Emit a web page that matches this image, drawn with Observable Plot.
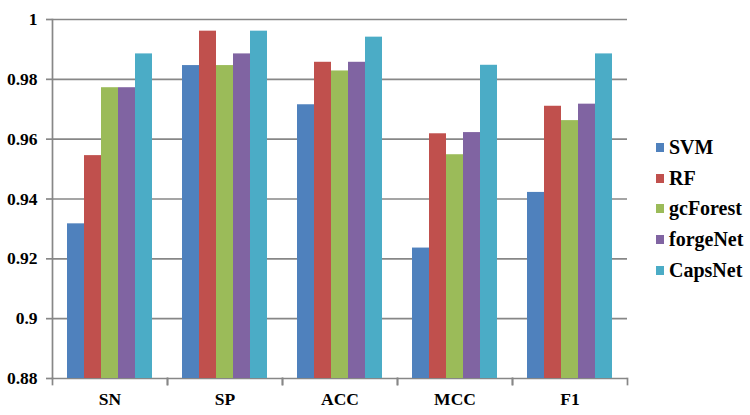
<!DOCTYPE html>
<html><head><meta charset="utf-8">
<script src="https://cdn.jsdelivr.net/npm/d3@7"></script>
<script src="https://cdn.jsdelivr.net/npm/@observablehq/plot@0.6"></script>
<style>
body{margin:0;background:#fff;}
#wrap{position:relative;width:750px;height:415px;}
#legend{position:absolute;left:656px;top:132px;font-family:"Liberation Serif",Tinos,"Times New Roman",Times,"DejaVu Serif",serif;font-weight:bold;font-size:20px;color:#000;}
.item{display:flex;align-items:center;height:30.7px;}
.sw{width:8px;height:9px;margin-right:5px;}
</style></head><body><div id="wrap"><div id="legend"></div></div>
<script>
const categories = ["SN","SP","ACC","MCC","F1"];
const series = ["SVM","RF","gcForest","forgeNet","CapsNet"];
const colors = ["#4F81BD","#C0504D","#9BBB59","#8064A2","#4BACC6"];
const SVM      = [0.9317,0.9846,0.9715,0.9236,0.9422];
const RF       = [0.9545,0.9961,0.9857,0.9618,0.9710];
const gcForest = [0.9772,0.9846,0.9828,0.9548,0.9662];
const forgeNet = [0.9772,0.9885,0.9857,0.9622,0.9717];
const CapsNet  = [0.9885,0.9961,0.9941,0.9847,0.9885];
const yTicks = [0.88,0.9,0.92,0.94,0.96,0.98,1];

const values = {SVM, RF, gcForest, forgeNet, CapsNet};
const data = [];
categories.forEach((c,i)=>series.forEach(s=>data.push({category:c, series:s, value:values[s][i]})));

const grid = "#878787";
const font = '"Liberation Serif",Tinos,"Times New Roman",Times,"DejaVu Serif",serif';

const chart = Plot.plot({
  width: 750, height: 415,
  marginTop: 19, marginLeft: 52, marginRight: 123, marginBottom: 37,
  style: {fontFamily: font, fontWeight: "bold", fontSize: "17px", color: "#000", background: "#fff"},
  fx: {domain: categories, padding: 0, label: null, axis: null},
  x: {domain: series, paddingInner: 0, paddingOuter: 0.77, axis: null},
  y: {domain: [0.88, 1], label: null},
  color: {domain: series, range: colors},
  marks: [
    Plot.gridY(yTicks, {stroke: grid, strokeOpacity: 1, strokeWidth: 1.7}),
    Plot.barY(data, {fx: "category", x: "series", y1: 0.88, y2: "value", fill: "series"}),
    Plot.frame({anchor: "left", facetAnchor: "left", stroke: grid, strokeWidth: 1.7}),
    Plot.frame({anchor: "left", stroke: grid, strokeWidth: 1.7, insetTop: 359, insetBottom: -6}),
    Plot.frame({anchor: "right", stroke: grid, strokeWidth: 1.7, insetTop: 359, insetBottom: -6}),
    Plot.axisY(yTicks, {tickSize: 6, tickPadding: 9, stroke: grid, strokeWidth: 1.7, tickFormat: d => String(d), fill: "#000", fontSize: 17.5, fontWeight: "bold", label: null}),
    Plot.axisFx({anchor: "bottom", tickSize: 0, tickPadding: 14, fontSize: 17.5, fontWeight: "bold", fill: "#000", label: null})
  ]
});
document.getElementById("wrap").prepend(chart);

const legend = document.getElementById("legend");
series.forEach((s,i)=>{
  const it = document.createElement("div"); it.className="item";
  const sw = document.createElement("span"); sw.className="sw"; sw.style.background=colors[i];
  const t = document.createElement("span"); t.textContent = s;
  it.append(sw,t); legend.append(it);
});
</script></body></html>
